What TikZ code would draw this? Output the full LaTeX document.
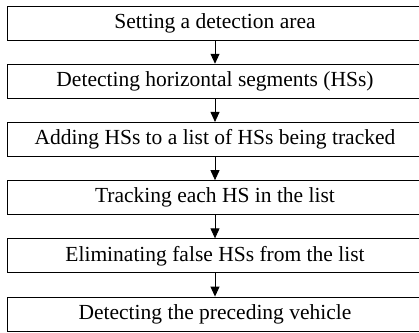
\documentclass[tikz,border=0pt]{standalone}
\usepackage{fontspec}
\setmainfont{Liberation Serif}
\usetikzlibrary{arrows.meta}

\begin{document}
\begin{tikzpicture}[x=1pt,y=1pt,
            stepbox/.style={draw=black,line width=0.9pt,minimum width=415pt,minimum height=34pt,inner sep=0pt,font=\fontsize{21.5}{24}\selectfont},
            flow/.style={draw=black,line width=0.9pt,-{Triangle[width=9pt,length=10pt]}}]
            \useasboundingbox (0,0) rectangle (419,-332);
            \node [stepbox] (area) at (215,-23) {Setting a detection area};
            \node [stepbox] (detect) at (215,-81.2) {Detecting horizontal segments (HSs)};
            \node [stepbox] (add) at (215,-139.4) {Adding HSs to a list of HSs being tracked};
            \node [stepbox] (track) at (215,-197.6) {Tracking each HS in the list};
            \node [stepbox] (elim) at (215,-255.8) {Eliminating false HSs from the list};
            \node [stepbox] (vehicle) at (215,-314) {Detecting the preceding vehicle};
            \draw [flow] (area) -- (detect);
            \draw [flow] (detect) -- (add);
            \draw [flow] (add) -- (track);
            \draw [flow] (track) -- (elim);
            \draw [flow] (elim) -- (vehicle);
        \end{tikzpicture}
\end{document}
